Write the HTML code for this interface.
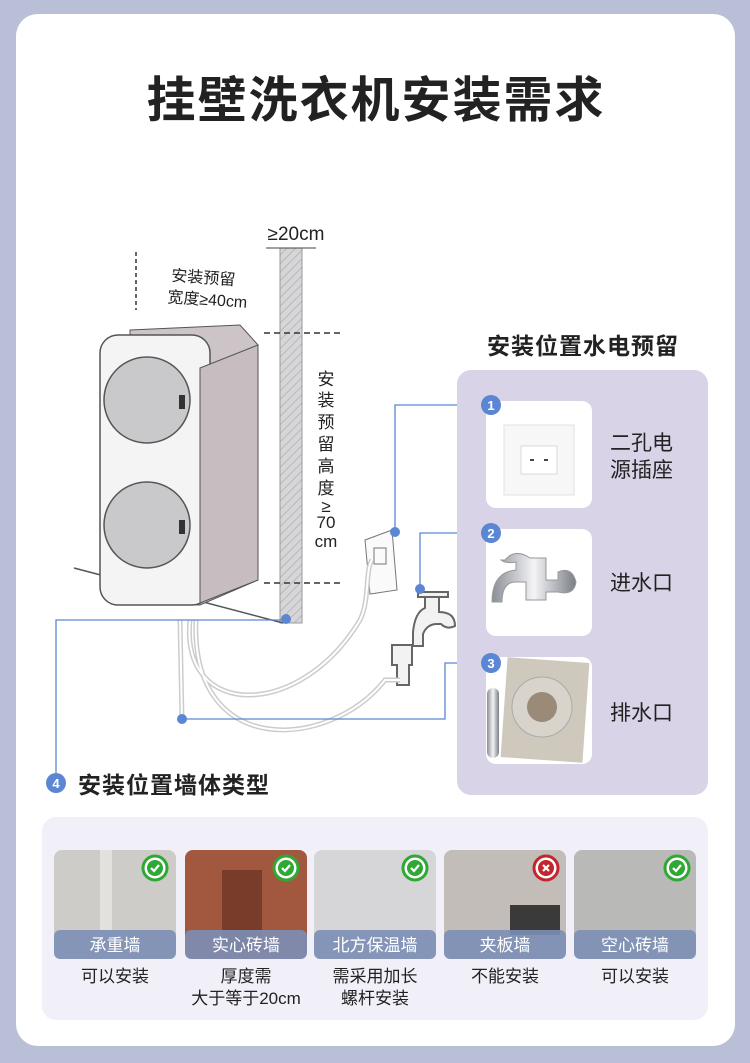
<!DOCTYPE html>
<html><head><meta charset="utf-8"><style>
body{margin:0;width:750px;height:1063px;background:#b9bfd6;overflow:hidden}
svg{display:block}
text{font-family:"Liberation Sans","Noto Sans CJK SC",sans-serif}
</style></head><body>
<svg width="750" height="1063" viewBox="0 0 750 1063" xmlns="http://www.w3.org/2000/svg">
<defs>
<pattern id="hatch" width="6" height="6" patternUnits="userSpaceOnUse" patternTransform="rotate(45)">
<rect width="6" height="6" fill="#d6d6d8"/><line x1="0" y1="0" x2="0" y2="6" stroke="#b8b8bc" stroke-width="2"/></pattern>
<linearGradient id="steel" x1="0" x2="1"><stop offset="0" stop-color="#8a8e96"/><stop offset=".5" stop-color="#f4f4f6"/><stop offset="1" stop-color="#7a7e86"/></linearGradient>
</defs>
<rect x="16" y="14" width="719" height="1032" rx="22" fill="#fff"/>
<text x="376" y="117" font-size="49" font-weight="bold" fill="#222" text-anchor="middle" letter-spacing="2">挂壁洗衣机安装需求</text>

<rect x="280" y="248" width="22" height="375" fill="url(#hatch)" stroke="#999" stroke-width="1"/>
<line x1="74" y1="568" x2="283" y2="623" stroke="#555" stroke-width="1.5"/>
<text x="296" y="240" font-size="19" fill="#222" text-anchor="middle">≥20cm</text>
<line x1="266" y1="248" x2="316" y2="248" stroke="#444"/>
<line x1="136" y1="252" x2="136" y2="310" stroke="#333" stroke-width="1.5" stroke-dasharray="4,3"/>
<text x="203" y="283" font-size="16" fill="#222" text-anchor="middle" transform="rotate(4 203 283)">安装预留</text>
<text x="207" y="305" font-size="16" fill="#222" text-anchor="middle" transform="rotate(4 207 305)">宽度≥40cm</text>
<line x1="264" y1="333" x2="343" y2="333" stroke="#333" stroke-width="1.5" stroke-dasharray="6,4"/>
<line x1="264" y1="583" x2="343" y2="583" stroke="#333" stroke-width="1.5" stroke-dasharray="6,4"/>
<g font-size="17" fill="#222" text-anchor="middle">
<text x="326" y="385">安</text><text x="326" y="406">装</text><text x="326" y="428">预</text><text x="326" y="450">留</text><text x="326" y="472">高</text><text x="326" y="494">度</text><text x="326" y="512">≥</text><text x="326" y="528">70</text><text x="326" y="547">cm</text></g>

<path d="M130 330 L240 325 L258 345 L258 580 L200 605 L130 603 Z" fill="#cdc4c8" stroke="#555"/>
<rect x="100" y="335" width="110" height="270" rx="18" fill="#f4f4f4" stroke="#555" stroke-width="1.5"/>
<path d="M200 368 L258 345 L258 580 L200 603 Z" fill="#c7bcc0" stroke="#555"/>
<circle cx="147" cy="400" r="43" fill="#c9c9cb" stroke="#555" stroke-width="1.5"/>
<circle cx="147" cy="525" r="43" fill="#c9c9cb" stroke="#555" stroke-width="1.5"/>
<rect x="179" y="395" width="6" height="14" fill="#333"/><rect x="179" y="520" width="6" height="14" fill="#333"/>

<path d="M365 540 L392 530 L397 590 L370 594 Z" fill="#fafafa" stroke="#777"/>
<rect x="374" y="548" width="12" height="16" fill="none" stroke="#777"/>
<g stroke="#666" stroke-width="2" fill="#f2f2f2">
<path d="M418 592 h30 v5 h-30 z"/>
<path d="M425 597 h14 v15 q16 0 16 14 q-8 4 -14 -2 h-4 q-10 0 -14 10 v12 h-10 v-14 q2 -20 12 -24 z"/>
<path d="M392 645 h20 v20 h-3 v20 h-12 v-20 h-5 z"/>
</g>
<g fill="none" stroke="#ccc" stroke-width="5">
<path d="M180 620 L182 720"/>
<path d="M190 620 C180 720 300 720 360 620 C370 600 365 570 372 560"/>
<path d="M196 620 C190 760 330 750 385 680 L400 680"/>
</g>
<g fill="none" stroke="#fff" stroke-width="2">
<path d="M180 620 L182 720"/>
<path d="M190 620 C180 720 300 720 360 620 C370 600 365 570 372 560"/>
<path d="M196 620 C190 760 330 750 385 680 L400 680"/></g>

<g stroke="#5b86d3" stroke-width="1.3" fill="none">
<polyline points="395,533 395,405 490,405"/>
<polyline points="420,590 420,533 490,533"/>
<polyline points="182,719 445,719 445,663 490,663"/>
<polyline points="286,620 56,620 56,783"/>
</g>
<g fill="#5b86d3"><circle cx="395" cy="532" r="5"/><circle cx="420" cy="589" r="5"/><circle cx="182" cy="719" r="5"/><circle cx="286" cy="619" r="5"/></g>

<text x="583" y="354" font-size="23" font-weight="bold" fill="#222" text-anchor="middle" letter-spacing="1">安装位置水电预留</text>
<rect x="457" y="370" width="251" height="425" rx="14" fill="#d9d3e7"/>
<rect x="486" y="401" width="106" height="107" rx="10" fill="#fff"/>
<rect x="504" y="425" width="70" height="70" fill="#f7f7f7" stroke="#e2e2e2"/>
<rect x="521" y="446" width="36" height="28" fill="#fff" stroke="#d8d8d8"/>
<rect x="530" y="459" width="4" height="2" fill="#444"/><rect x="544" y="459" width="4" height="2" fill="#444"/>
<rect x="486" y="529" width="106" height="107" rx="10" fill="#fff"/>
<path d="M505 560 q10 -12 25 -2 h16 v22 h12 v-8 q14 -6 18 10 q-2 14 -18 10 h-12 v8 h-20 v-18 h-10 q-14 0 -14 20 h-10 q0 -30 24 -32 v-8 q-10 2 -15 -2 z" fill="url(#steel)" stroke="#999"/>
<rect x="486" y="657" width="106" height="107" rx="10" fill="#fff"/>
<rect x="504" y="660" width="82" height="100" fill="#cfc9bd" transform="rotate(4 545 710)"/>
<circle cx="542" cy="707" r="30" fill="#d8d4cc" stroke="#aaa"/><circle cx="542" cy="707" r="15" fill="#9a8a78"/>
<rect x="487" y="688" width="12" height="70" rx="6" fill="url(#steel)"/>
<g fill="#5b86d3">
<circle cx="491" cy="405" r="10"/><circle cx="491" cy="533" r="10"/><circle cx="491" cy="663" r="10"/><circle cx="56" cy="783" r="10"/></g>
<g fill="#fff" font-size="13" font-weight="bold" text-anchor="middle">
<text x="491" y="410">1</text><text x="491" y="538">2</text><text x="491" y="668">3</text><text x="56" y="788">4</text></g>
<g font-size="21" fill="#222">
<text x="610" y="450">二孔电</text><text x="610" y="477">源插座</text>
<text x="610" y="590">进水口</text><text x="610" y="720">排水口</text></g>
<text x="78" y="793" font-size="23" font-weight="bold" fill="#222" letter-spacing="1">安装位置墙体类型</text>

<rect x="42" y="817" width="666" height="203" rx="14" fill="#f1f0f8"/>
<g>
<rect x="54" y="850" width="122" height="109" rx="8" fill="#cdccc9"/>
<rect x="185" y="850" width="122" height="109" rx="8" fill="#a2583f"/>
<rect x="314" y="850" width="122" height="109" rx="8" fill="#d6d6d8"/>
<rect x="444" y="850" width="122" height="109" rx="8" fill="#c2bdb8"/>
<rect x="574" y="850" width="122" height="109" rx="8" fill="#b9b9b7"/>
<rect x="100" y="850" width="12" height="80" fill="#e2e1de"/>
<rect x="222" y="870" width="40" height="80" fill="#7a3c2a"/>
<rect x="510" y="905" width="50" height="30" fill="#3a3a3a"/>
<g fill="#7d8fb5" opacity=".9">
<rect x="54" y="930" width="122" height="29" rx="6"/><rect x="185" y="930" width="122" height="29" rx="6"/><rect x="314" y="930" width="122" height="29" rx="6"/><rect x="444" y="930" width="122" height="29" rx="6"/><rect x="574" y="930" width="122" height="29" rx="6"/></g>
</g>
<g font-size="17" fill="#fff" text-anchor="middle">
<text x="115" y="951">承重墙</text><text x="246" y="951">实心砖墙</text><text x="375" y="951">北方保温墙</text><text x="505" y="951">夹板墙</text><text x="635" y="951">空心砖墙</text></g>
<g stroke-width="3">
<circle cx="155" cy="868" r="12" fill="#fff" stroke="#2fa834"/><circle cx="286" cy="868" r="12" fill="#fff" stroke="#2fa834"/><circle cx="415" cy="868" r="12" fill="#fff" stroke="#2fa834"/><circle cx="546" cy="868" r="12" fill="#fff" stroke="#c4262e"/><circle cx="677" cy="868" r="12" fill="#fff" stroke="#2fa834"/></g>
<g fill="#2fa834"><circle cx="155" cy="868" r="8"/><circle cx="286" cy="868" r="8"/><circle cx="415" cy="868" r="8"/><circle cx="677" cy="868" r="8"/></g>
<circle cx="546" cy="868" r="8" fill="#c4262e"/>
<g stroke="#fff" stroke-width="2.2" fill="none">
<path d="M151 868 l3 3 l5 -6"/><path d="M282 868 l3 3 l5 -6"/><path d="M411 868 l3 3 l5 -6"/><path d="M673 868 l3 3 l5 -6"/><path d="M543 865 l6 6 M549 865 l-6 6"/></g>
<g font-size="17" fill="#222" text-anchor="middle">
<text x="115" y="982">可以安装</text><text x="246" y="982">厚度需</text><text x="246" y="1004">大于等于20cm</text><text x="375" y="982">需采用加长</text><text x="375" y="1004">螺杆安装</text><text x="505" y="982">不能安装</text><text x="635" y="982">可以安装</text></g>
</svg>
</body></html>
